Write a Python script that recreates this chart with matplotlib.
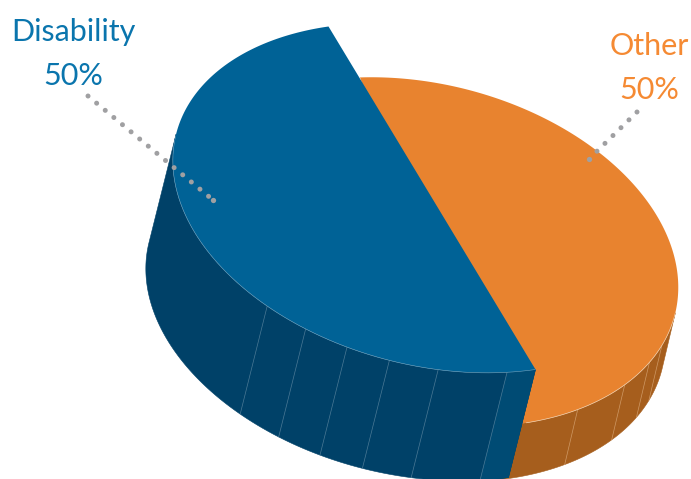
import numpy as np
import matplotlib
matplotlib.use("Agg")
import matplotlib.pyplot as plt
from matplotlib.patches import Polygon

# Data
categories = ["Disability", "Other"]
values = [50, 50]
label_values = ["50%", "50%"]

# Estimated seam positions (ellipse parameter, radians) on the side walls
blue_seams = [1.10, 0.92, 0.745, 0.576, 0.387, 0.117]
orange_seams = [-0.24, -0.50, -0.68, -0.80]

# Projection of the tilted discs, in figure pixels
BLUE = dict(c=(432, 198), A=(103.5, 171.5), B=(-237.6, 34), D=(-27, 108))
ORNG = dict(c=(423, 252), A=(102, 171), B=(-234, 36), D=(-13, 55))
BLUE_TOP, BLUE_WALL, BLUE_WALL2 = "#006296", "#004168", "#004B74"
ORNG_TOP, ORNG_WALL = "#E8832F", "#A65E1D"
BLUE_TXT, ORNG_TXT = "#0A75AD", "#F58A33"
DOT = "#A0A0A2"

def pt(g, t):
    t = np.asarray(t, dtype=float)
    return (g["c"][0] + np.cos(t) * g["A"][0] + np.sin(t) * g["B"][0],
            g["c"][1] + np.cos(t) * g["A"][1] + np.sin(t) * g["B"][1])

def cross(u, v):
    return u[0] * v[1] - u[1] * v[0]

def silhouette(g):
    return np.arctan(cross(g["B"], g["D"]) / cross(g["A"], g["D"]))

def wall(ax, g, t0, t1, color, z):
    t = np.linspace(t0, t1, 200)
    x, y = pt(g, t)
    xs = np.r_[x, x[::-1] + g["D"][0]]
    ys = np.r_[y, y[::-1] + g["D"][1]]
    ax.add_patch(Polygon(np.c_[xs, ys], closed=True, fc=color, ec=color, lw=0.4, zorder=z))

def seam(ax, g, t, color, z):
    x, y = pt(g, t)
    ax.plot([x, x + g["D"][0]], [y, y + g["D"][1]], color=color, lw=0.5, alpha=0.8, zorder=z)

fig = plt.figure(figsize=(6.91, 4.79), dpi=100)
ax = fig.add_axes([0, 0, 1, 1])
ax.set_xlim(0, 691)
ax.set_ylim(479, 0)
ax.axis("off")

total = sum(values)
blue_span = 2 * np.pi * values[0] / total
orng_span = 2 * np.pi * values[1] / total

# Orange slice
orng_start = -2.98
sil = silhouette(ORNG)  # right-hand tangent
wall(ax, ORNG, sil, orng_start + orng_span, ORNG_WALL, 1)
for t in orange_seams:
    seam(ax, ORNG, t, "#D9A878", 2)
t = np.linspace(orng_start, orng_start + orng_span, 300)
x, y = pt(ORNG, t)
ax.add_patch(Polygon(np.c_[np.r_[x, ORNG["c"][0]], np.r_[y, ORNG["c"][1]]], closed=True,
                     fc=ORNG_TOP, ec="none", zorder=3))
ax.plot(x[(t > sil) & (t < 0.0)], y[(t > sil) & (t < 0.0)], color="#F3D2B0", lw=0.5, zorder=3)

# Blue slice
sil_b = np.pi + silhouette(BLUE)
wall(ax, BLUE, 0, sil_b, BLUE_WALL, 4)
wall(ax, BLUE, 0, blue_seams[-1], BLUE_WALL2, 4)
for t in blue_seams:
    seam(ax, BLUE, t, "#5E87A0", 5)
t = np.linspace(0, blue_span, 300)
x, y = pt(BLUE, t)
ax.add_patch(Polygon(np.c_[x, y], closed=True, fc=BLUE_TOP, ec="none", zorder=6))
mask = t < sil_b
ax.plot(x[mask], y[mask], color="#6FA3C0", lw=0.4, zorder=6)

# Leader lines
dots = dict(color=DOT, lw=3.6, linestyle=(0, (0.01, 2.23)), dash_capstyle="round", zorder=8)
ax.plot([88, 213], [96, 200], **dots)
ax.plot([213], [200], "o", color=DOT, ms=3.8, mew=0, zorder=8)
ax.plot([637, 589], [112, 159], **dots)
ax.plot([589], [159], "o", color=DOT, ms=3.8, mew=0, zorder=8)

# Labels
font = dict(family="Lato", fontsize=22, ha="center", va="baseline", zorder=9)
ax.text(73, 41, categories[0], color=BLUE_TXT, **font)
ax.text(73, 85, label_values[0], color=BLUE_TXT, **font)
ax.text(649.5, 55, categories[1], color=ORNG_TXT, **font)
ax.text(649.5, 99, label_values[1], color=ORNG_TXT, **font)

fig.savefig("out.png", dpi=100)
